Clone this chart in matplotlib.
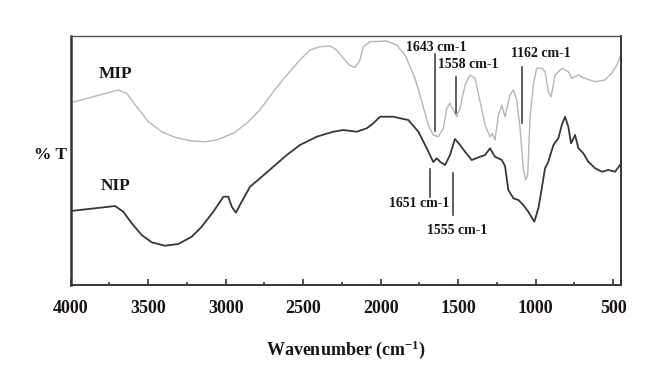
import matplotlib
matplotlib.use("Agg")
import matplotlib.pyplot as plt
from matplotlib.ticker import MultipleLocator

# ---- data ----
mip_wn = [4000, 3693, 3639, 3574, 3499, 3413, 3327, 3219, 3134, 3058, 2951, 2864, 2779, 2693,
          2606, 2521, 2456, 2392, 2327, 2284, 2241, 2198, 2166, 2138, 2112, 2069, 1961, 1897,
          1843, 1779, 1735, 1693, 1661, 1628, 1596, 1574, 1553, 1532, 1510, 1488, 1456, 1424,
          1391, 1359, 1327, 1295, 1280, 1263, 1241, 1219, 1198, 1166, 1144, 1123, 1101, 1080,
          1065, 1052, 1037, 1016, 994, 961, 940, 919, 901, 875, 832, 790, 768, 746, 725, 682,
          617, 553, 510, 477, 456]
mip_t = [182.3, 195, 191.7, 178.3, 163.3, 153.3, 147.7, 144, 143.3, 145, 151.7, 161.7, 175, 193.3,
         210, 225, 235, 238.3, 239, 235, 226.7, 219.3, 217.7, 223.3, 238.3, 243.3, 244, 240,
         230, 206.7, 183.3, 160, 150, 148.3, 156.7, 176.7, 181.7, 175, 168.3, 176.7, 200, 210,
         206.7, 183.3, 160, 148.3, 151.7, 145, 170, 180, 168.3, 190, 195, 185, 156.7, 116.7,
         105, 110, 166.7, 200, 216.7, 216.7, 213.3, 193.3, 188.3, 210, 216.7, 213.3, 206.7, 208.3, 210, 206.7,
         203.3, 205, 211.7, 220, 228.3]

nip_wn = [4000, 3714, 3661, 3606, 3542, 3477, 3392, 3306, 3219, 3155, 3080, 3015, 2983, 2961,
          2934, 2897, 2843, 2779, 2693, 2606, 2521, 2413, 2306, 2241, 2155, 2090, 2048, 2004,
          1919, 1875, 1822, 1757, 1703, 1661, 1639, 1617, 1585, 1553, 1521, 1488, 1456, 1413,
          1359, 1327, 1295, 1263, 1219, 1198, 1177, 1144, 1112, 1080, 1048, 1009, 983, 961,
          940, 919, 886, 854, 832, 811, 790, 772, 746, 725, 693, 661, 617, 574, 532, 488, 456]
nip_t = [74, 79, 73.3, 61.7, 50, 42.7, 39.3, 41, 48.3, 58.3, 73.3, 88.3, 88.3, 78.3,
         72.3, 83.3, 98.3, 106.7, 118.3, 130, 140, 148.3, 153.3, 155, 153.3, 156.7, 161.7, 168.3,
         168.3, 166.7, 165, 153.3, 136.7, 123, 126.7, 123.3, 120, 130, 146, 140, 133.3, 125,
         128.3, 130, 136.7, 128.3, 125, 119, 95, 86.7, 85, 80, 73.3, 63.3, 76.7, 96.7,
         116.7, 123.3, 140, 146.7, 160, 168.3, 158.3, 141.7, 150, 136.7, 131.7, 123.3, 116.7, 113.3, 115, 113.3, 120]

# annotation marker lines: x position, y bottom, y top
ann_x = [1650, 1514, 1090, 1682, 1532]
ann_y0 = [154, 172, 162.3, 88.3, 70]
ann_y1 = [231, 208, 218, 115.7, 112.3]
# annotation labels
lab_text = ["1643 cm-1", "1558 cm-1", "1162 cm-1", "1651 cm-1", "1555 cm-1"]
lab_x = [1644, 1436, 966, 1753, 1508]
lab_y = [237.7, 220.7, 231.7, 81.7, 54.3]

series_names = ["MIP", "NIP"]
series_label_x = [3708, 3708]
series_label_y = [211, 99.3]

xticks = [4000, 3500, 3000, 2500, 2000, 1500, 1000, 500]

# ---- figure ----
plt.rcParams['font.family'] = ['Liberation Serif', 'DejaVu Serif']
plt.rcParams['mathtext.fontset'] = 'custom'
plt.rcParams['mathtext.rm'] = 'Liberation Serif:bold'
plt.rcParams['mathtext.it'] = 'Liberation Serif:bold'
plt.rcParams['mathtext.bf'] = 'Liberation Serif:bold'

fig = plt.figure(figsize=(6.6, 3.77), dpi=100)
ax = fig.add_axes([0.1071, 0.244, 0.9409 - 0.1071, 0.9045 - 0.244])

ax.plot(mip_wn, mip_t, color='#bdb3b0', lw=1.0)
ax.plot(nip_wn, nip_t, color='#3d3535', lw=1.3)

for x, y0, y1 in zip(ann_x, ann_y0, ann_y1):
    ax.plot([x, x], [y0, y1], color='#4a4242', lw=1.2)
for t, x, y in zip(lab_text, lab_x, lab_y):
    ax.text(x, y, t, ha='center', va='center', fontsize=10, fontweight='bold', color='#1a1414')
for t, x, y in zip(series_names, series_label_x, series_label_y):
    ax.text(x, y, t, ha='center', va='center', fontsize=12.5, fontweight='bold', color='#1a1414')

ax.set_xlim(4000, 450)
ax.set_ylim(0, 249)
ax.set_xticks(xticks)
ax.xaxis.set_minor_locator(MultipleLocator(250))
ax.set_yticks([])
ax.tick_params(axis='x', which='major', direction='in', length=4, width=1.2, color='#3b3333',
               pad=11, labelsize=13, top=False)
ax.tick_params(axis='x', which='minor', direction='in', length=2.5, width=1.2, color='#3b3333', top=False)
for lab in ax.get_xticklabels():
    lab.set_fontweight('bold')
    lab.set_color('#1a1414')

ax.spines['left'].set_linewidth(1.8)
ax.spines['bottom'].set_linewidth(1.4)
ax.spines['right'].set_linewidth(1.4)
ax.spines['top'].set_linewidth(1.0)
for s in ax.spines.values():
    s.set_color('#3b3333')
ax.spines['top'].set_color('#5a5252')

ax.set_xlabel('Wavenumber (cm$^{-1}$)', fontsize=13, fontweight='bold', color='#1a1414', labelpad=15)
fig.text(50 / 660, 1 - 155 / 377, '% T', ha='center', va='center', fontsize=12.5,
         fontweight='bold', color='#1a1414')

fig.savefig('out.png', dpi=100, facecolor='white')
